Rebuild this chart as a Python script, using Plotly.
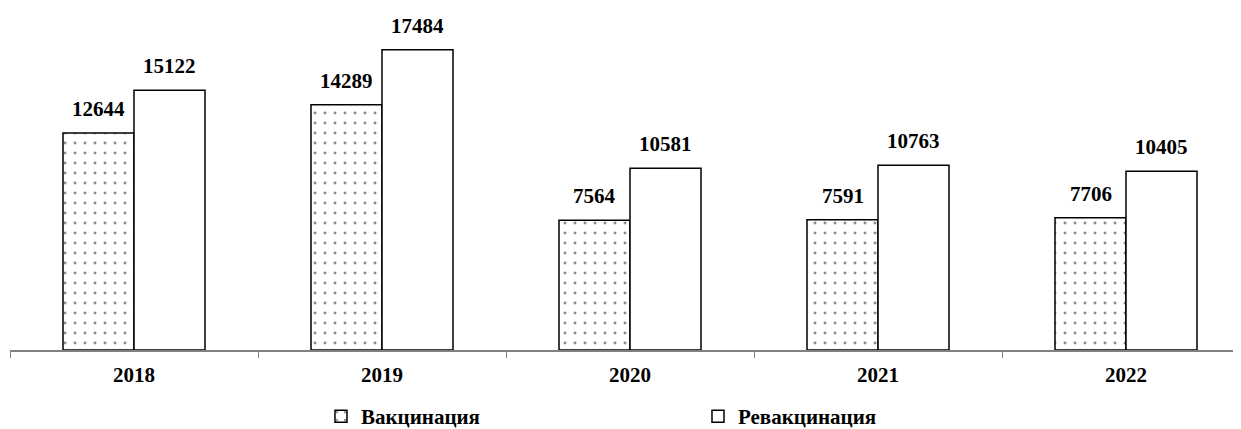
import plotly.graph_objects as go

years = ["2018", "2019", "2020", "2021", "2022"]
vaccination = [12644, 14289, 7564, 7591, 7706]
revaccination = [15122, 17484, 10581, 10763, 10405]
series_names = ["Вакцинация", "Ревакцинация"]

FONT = "Liberation Serif"
n = len(years)
cat_px = 248.0
bar_px = 71.0
bargap = 1 - 2 * bar_px / cat_px

fig = go.Figure()
fig.add_trace(go.Bar(
    x=years, y=vaccination, name=f"<b>{series_names[0]}</b>",
    marker=dict(color="white", line=dict(color="black", width=1.5),
                pattern=dict(shape=".", fgcolor="#1a1a1a", bgcolor="white",
                             size=10, solidity=0.07, fillmode="overlay")),
))
fig.add_trace(go.Bar(
    x=years, y=revaccination, name=f"<b>{series_names[1]}</b>",
    marker=dict(color="white", line=dict(color="black", width=1.5)),
))

# value labels (x given as category index)
for i in range(n):
    for vals, sh in ((vaccination, -bar_px / 2), (revaccination, bar_px / 2)):
        fig.add_annotation(x=i, y=vals[i], xref="x", yref="y",
                           text=f"<b>{vals[i]}</b>", showarrow=False,
                           xshift=sh, yshift=10, yanchor="bottom",
                           font=dict(family=FONT, size=21, color="black"))

W, H = 1241, 429
ml, mb = 2, 82
plot_w = W - ml
plot_h = H - mb
scale = 0.01742  # px per unit
xr = [-0.5, -0.5 + plot_w / cat_px]

fig.update_layout(
    width=W, height=H,
    margin=dict(l=ml, r=0, t=0, b=mb),
    plot_bgcolor="white", paper_bgcolor="white",
    barmode="group", bargap=bargap, bargroupgap=0,
    showlegend=True,
    legend=dict(orientation="h", x=0.251, xanchor="left", y=-0.195, yanchor="middle",
                font=dict(family=FONT, size=21, color="black"),
                entrywidth=332, itemwidth=30, traceorder="normal",
                bgcolor="rgba(0,0,0,0)"),
    xaxis=dict(type="category", range=xr,
               showline=True, linecolor="#808080", linewidth=1.5,
               ticks="outside", ticklen=6, tickcolor="#808080", tickwidth=1,
               tickson="boundaries", ticklabelstandoff=5,
               tickfont=dict(family=FONT, size=21, color="black"),
               tickprefix="<b>", ticksuffix="</b>", showgrid=False),
    xaxis2=dict(type="linear", overlaying="x", anchor="y", side="bottom",
                range=xr,
                tickvals=[i - 0.5 for i in range(n + 1)],
                ticks="inside", ticklen=6, tickcolor="#808080", tickwidth=1,
                showticklabels=False, showline=False, showgrid=False, zeroline=False),
    yaxis=dict(range=[0, plot_h / scale], visible=False),
)
fig.write_html("out.html")
